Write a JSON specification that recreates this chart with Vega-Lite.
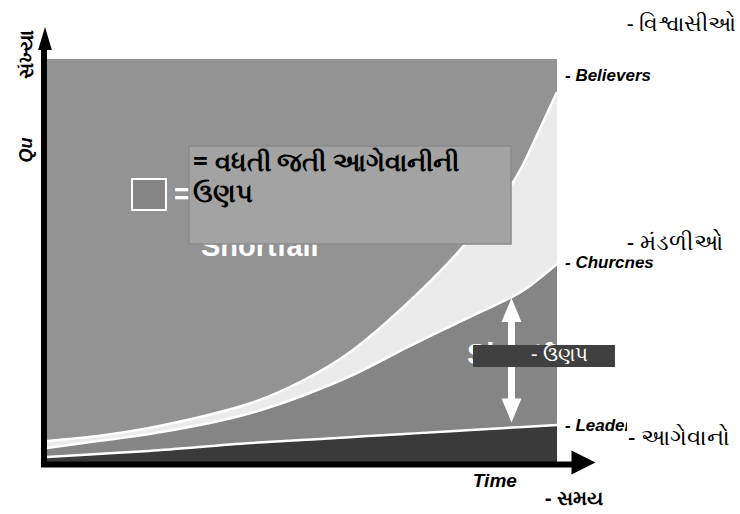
{
  "$schema": "https://vega.github.io/schema/vega-lite/v6.json",
  "width": 510,
  "height": 403,
  "autosize": {"type": "none"},
  "padding": {"left": 47, "top": 59, "right": 183, "bottom": 52},
  "background": "white",
  "view": {"fill": "#939393", "stroke": null},
  "config": {"axis": {"disable": true}, "text": {"font": "Liberation Sans"}},
  "layer": [
    {
      "data": {"name": "growth", "values": [
        {"t": 0, "believers": 5.21, "churches": 3.47, "leaders": 1.24},
        {"t": 1, "believers": 6.45, "churches": 5.21, "leaders": 1.99},
        {"t": 2, "believers": 8.44, "churches": 6.95, "leaders": 2.73},
        {"t": 3, "believers": 11.17, "churches": 9.18, "leaders": 3.72},
        {"t": 4, "believers": 14.64, "churches": 12.16, "leaders": 4.71},
        {"t": 5, "believers": 20.1, "churches": 16.38, "leaders": 5.46},
        {"t": 6, "believers": 27.8, "churches": 21.59, "leaders": 6.2},
        {"t": 7, "believers": 38.6, "churches": 28.04, "leaders": 6.95},
        {"t": 8, "believers": 51.2, "churches": 34.24, "leaders": 7.69},
        {"t": 9, "believers": 66.75, "churches": 40.2, "leaders": 8.44},
        {"t": 9.5, "believers": 78.16, "churches": 44.0, "leaders": 8.81},
        {"t": 10, "believers": 91.81, "churches": 49.13, "leaders": 9.18}
      ]},
      "layer": [
        {"mark": {"type": "area", "color": "#ebebeb", "interpolate": "natural"},
         "encoding": {
           "x": {"field": "t", "type": "quantitative", "scale": {"domain": [0, 10], "nice": false, "zero": false}},
           "y": {"field": "believers", "type": "quantitative", "scale": {"domain": [0, 100], "nice": false, "zero": false}},
           "y2": {"field": "churches"}}},
        {"mark": {"type": "area", "color": "#858585", "interpolate": "natural"},
         "encoding": {"x": {"field": "t", "type": "quantitative"}, "y": {"field": "churches", "type": "quantitative"}, "y2": {"field": "leaders"}}},
        {"mark": {"type": "area", "color": "#3a3a3a", "interpolate": "natural"},
         "encoding": {"x": {"field": "t", "type": "quantitative"}, "y": {"field": "leaders", "type": "quantitative"}, "y2": {"datum": 0}}},
        {"mark": {"type": "line", "color": "white", "strokeWidth": 2.5, "interpolate": "natural"},
         "encoding": {"x": {"field": "t", "type": "quantitative"}, "y": {"field": "believers", "type": "quantitative"}}},
        {"mark": {"type": "line", "color": "white", "strokeWidth": 2.5, "interpolate": "natural"},
         "encoding": {"x": {"field": "t", "type": "quantitative"}, "y": {"field": "churches", "type": "quantitative"}}},
        {"mark": {"type": "line", "color": "white", "strokeWidth": 2.5, "interpolate": "natural"},
         "encoding": {"x": {"field": "t", "type": "quantitative"}, "y": {"field": "leaders", "type": "quantitative"}}}
      ]
    },
    {
      "data": {"values": [{"t": -0.059, "q": 102.23, "t2": -0.059, "q2": -1.24}, {"t": -0.118, "q": -0.62, "t2": 10.33, "q2": -0.62}]},
      "mark": {"type": "rule", "color": "black", "strokeWidth": 6},
      "encoding": {"x": {"field": "t", "type": "quantitative"}, "y": {"field": "q", "type": "quantitative"}, "x2": {"field": "t2"}, "y2": {"field": "q2"}}
    },
    {
      "data": {"values": [{"t": -0.039, "q": 105.09}]},
      "mark": {"type": "point", "shape": "M0,-1L0.6,1L-0.6,1Z", "size": 529, "filled": true, "color": "black", "opacity": 1},
      "encoding": {"x": {"field": "t", "type": "quantitative"}, "y": {"field": "q", "type": "quantitative"}}
    },
    {
      "data": {"values": [{"t": 10.52, "q": -0.12}]},
      "mark": {"type": "point", "shape": "M1,0L-1,-1L-1,1Z", "size": 576, "filled": true, "color": "black", "opacity": 1},
      "encoding": {"x": {"field": "t", "type": "quantitative"}, "y": {"field": "q", "type": "quantitative"}}
    },
    {
      "data": {"values": [{"t": 1.667, "t2": 2.333, "q": 70.22, "q2": 62.53}]},
      "mark": {"type": "rect", "fill": "#858585", "stroke": "white", "strokeWidth": 2},
      "encoding": {"x": {"field": "t", "type": "quantitative"}, "x2": {"field": "t2"}, "y": {"field": "q", "type": "quantitative"}, "y2": {"field": "q2"}}
    },
    {
      "data": {"values": [{"t": 2.49, "q": 64.0, "label": "="}, {"t": 3.02, "q": 51.12, "label": "Shortfall"}, {"t": 8.235, "q": 24.32, "label": "Shortfall"}]},
      "mark": {"type": "text", "color": "white", "fontWeight": "bold", "fontSize": 29, "align": "left", "baseline": "alphabetic"},
      "encoding": {"x": {"field": "t", "type": "quantitative"}, "y": {"field": "q", "type": "quantitative"}, "text": {"field": "label"}}
    },
    {
      "data": {"values": [{"t": 2.784, "t2": 9.098, "q": 78.41, "q2": 54.09}]},
      "mark": {"type": "rect", "fill": "#a3a3a3", "stroke": "#8a8a8a", "strokeWidth": 1.5},
      "encoding": {"x": {"field": "t", "type": "quantitative"}, "x2": {"field": "t2"}, "y": {"field": "q", "type": "quantitative"}, "y2": {"field": "q2"}}
    },
    {
      "data": {"values": [{"t": 2.863, "q": 72.3, "label": "= વધતી જતી આગેવાનીની"}, {"t": 2.863, "q": 64.4, "label": "ઉણપ"}]},
      "mark": {"type": "text", "color": "black", "fontWeight": "bold", "fontSize": 26, "font": "Noto Sans", "align": "left", "baseline": "alphabetic"},
      "encoding": {"x": {"field": "t", "type": "quantitative"}, "y": {"field": "q", "type": "quantitative"}, "text": {"field": "label"}}
    },
    {
      "data": {"values": [{"t": 9.108, "q": 34.99, "t2": 9.108, "q2": 15.63}]},
      "mark": {"type": "rule", "color": "white", "strokeWidth": 7},
      "encoding": {"x": {"field": "t", "type": "quantitative"}, "y": {"field": "q", "type": "quantitative"}, "x2": {"field": "t2"}, "y2": {"field": "q2"}}
    },
    {
      "data": {"values": [{"t": 9.108, "q": 37.72}]},
      "mark": {"type": "point", "shape": "M0,-1L0.83,1L-0.83,1Z", "size": 576, "filled": true, "color": "white", "opacity": 1},
      "encoding": {"x": {"field": "t", "type": "quantitative"}, "y": {"field": "q", "type": "quantitative"}}
    },
    {
      "data": {"values": [{"t": 9.108, "q": 12.78}]},
      "mark": {"type": "point", "shape": "M0,1L0.83,-1L-0.83,-1Z", "size": 576, "filled": true, "color": "white", "opacity": 1},
      "encoding": {"x": {"field": "t", "type": "quantitative"}, "y": {"field": "q", "type": "quantitative"}}
    },
    {
      "data": {"values": [{"t": 8.353, "t2": 11.137, "q": 29.03, "q2": 23.57}]},
      "mark": {"type": "rect", "fill": "#404040"},
      "encoding": {"x": {"field": "t", "type": "quantitative"}, "x2": {"field": "t2"}, "y": {"field": "q", "type": "quantitative"}, "y2": {"field": "q2"}}
    },
    {
      "data": {"values": [{"t": 9.49, "q": 25.06, "label": "- ઉણપ"}]},
      "mark": {"type": "text", "color": "white", "fontSize": 20, "font": "Noto Sans", "align": "left", "baseline": "alphabetic"},
      "encoding": {"x": {"field": "t", "type": "quantitative"}, "y": {"field": "q", "type": "quantitative"}, "text": {"field": "label"}}
    },
    {
      "data": {"values": [{"t": 10.157, "q": 94.54, "label": "- Believers"}, {"t": 10.157, "q": 48.14, "label": "- Churches"}, {"t": 10.157, "q": 7.69, "label": "- Leaders"}]},
      "mark": {"type": "text", "color": "black", "fontWeight": "bold", "fontStyle": "italic", "fontSize": 17, "align": "left", "baseline": "alphabetic"},
      "encoding": {"x": {"field": "t", "type": "quantitative"}, "y": {"field": "q", "type": "quantitative"}, "text": {"field": "label"}}
    },
    {
      "data": {"values": [{"t": 8.35, "q": -6.2, "label": "Time"}]},
      "mark": {"type": "text", "color": "black", "fontWeight": "bold", "fontStyle": "italic", "fontSize": 19, "align": "left", "baseline": "alphabetic"},
      "encoding": {"x": {"field": "t", "type": "quantitative"}, "y": {"field": "q", "type": "quantitative"}, "text": {"field": "label"}}
    },
    {
      "data": {"values": [{"t": 11.333, "t2": 13.588, "q": 59.55, "q2": 50.25}, {"t": 11.373, "t2": 13.588, "q": 12.9, "q2": 1.74}]},
      "mark": {"type": "rect", "fill": "white"},
      "encoding": {"x": {"field": "t", "type": "quantitative"}, "x2": {"field": "t2"}, "y": {"field": "q", "type": "quantitative"}, "y2": {"field": "q2"}}
    },
    {
      "data": {"values": [{"t": 11.37, "q": 52.6, "label": "- મંડળીઓ"}, {"t": 11.39, "q": 4.22, "label": "- આગેવાનો"}]},
      "mark": {"type": "text", "color": "black", "fontSize": 23, "font": "Noto Sans", "align": "left", "baseline": "alphabetic"},
      "encoding": {"x": {"field": "t", "type": "quantitative"}, "y": {"field": "q", "type": "quantitative"}, "text": {"field": "label"}}
    },
    {
      "data": {"values": [{"t": 11.37, "q": 107.0, "label": "- વિશ્વાસીઓ"}]},
      "mark": {"type": "text", "color": "black", "fontSize": 21.5, "font": "Noto Sans", "align": "left", "baseline": "alphabetic"},
      "encoding": {"x": {"field": "t", "type": "quantitative"}, "y": {"field": "q", "type": "quantitative"}, "text": {"field": "label"}}
    },
    {
      "data": {"values": [{"t": 9.765, "q": -10.67, "label": "- સમય"}]},
      "mark": {"type": "text", "color": "black", "fontSize": 20, "fontWeight": "bold", "font": "Noto Sans", "align": "left", "baseline": "alphabetic"},
      "encoding": {"x": {"field": "t", "type": "quantitative"}, "y": {"field": "q", "type": "quantitative"}, "text": {"field": "label"}}
    },
    {
      "data": {"values": [{"t": -0.392, "q": 101.0, "label": "સંખ્યા"}]},
      "mark": {"type": "text", "color": "black", "fontSize": 20, "fontWeight": "bold", "font": "Noto Sans", "angle": 270, "align": "center", "baseline": "middle"},
      "encoding": {"x": {"field": "t", "type": "quantitative"}, "y": {"field": "q", "type": "quantitative"}, "text": {"field": "label"}}
    },
    {
      "data": {"values": [{"t": -0.392, "q": 77.42, "label": "Qu"}]},
      "mark": {"type": "text", "color": "black", "fontSize": 18, "fontWeight": "bold", "fontStyle": "italic", "angle": 270, "align": "center", "baseline": "middle"},
      "encoding": {"x": {"field": "t", "type": "quantitative"}, "y": {"field": "q", "type": "quantitative"}, "text": {"field": "label"}}
    }
  ]
}
